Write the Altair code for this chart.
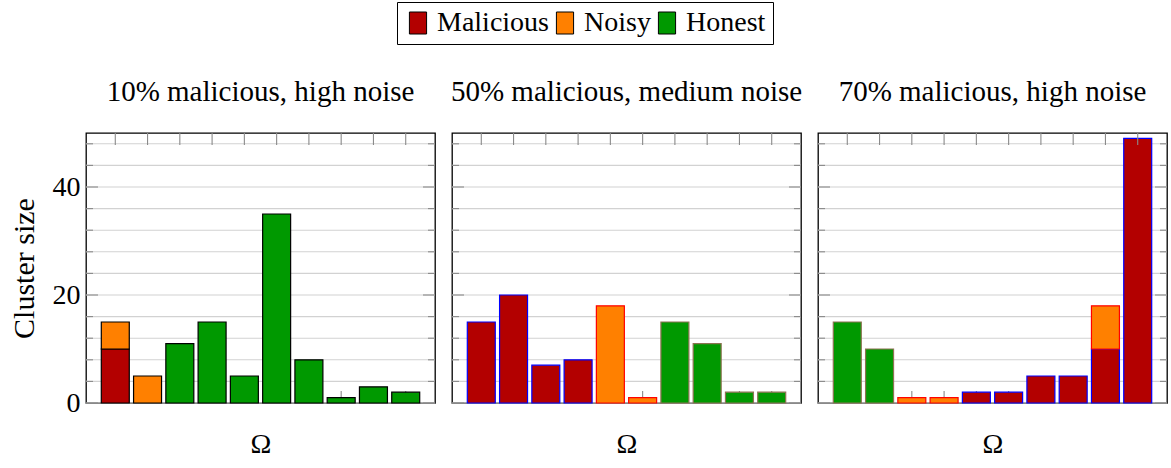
import altair as alt
import pandas as pd

# ---------------- data ----------------
panel_titles = ["10% malicious, high noise",
                "50% malicious, medium noise",
                "70% malicious, high noise"]
clusters = [str(i) for i in range(1, 11)]
types = ["Malicious", "Noisy", "Honest"]
fill_colors = ["#b30000", "#ff8000", "#009900"]

p1_malicious = [10, 0, 0, 0, 0, 0, 0, 0, 0, 0]
p1_noisy = [5, 5, 0, 0, 0, 0, 0, 0, 0, 0]
p1_honest = [0, 0, 11, 15, 5, 35, 8, 1, 3, 2]

p2_malicious = [15, 20, 7, 8, 0, 0, 0, 0, 0, 0]
p2_noisy = [0, 0, 0, 0, 18, 1, 0, 0, 0, 0]
p2_honest = [0, 0, 0, 0, 0, 0, 15, 11, 2, 2]

p3_malicious = [0, 0, 0, 0, 2, 2, 5, 5, 10, 49]
p3_noisy = [0, 0, 1, 1, 0, 0, 0, 0, 8, 0]
p3_honest = [15, 10, 0, 0, 0, 0, 0, 0, 0, 0]

edges_p1 = ["#000000", "#000000", "#000000"]
edges_p23 = ["#0000ff", "#ff0000", "#8c7352"]

grid_values = [0, 4, 8, 12, 16, 20, 24, 28, 32, 36, 40, 44, 48]
major_ticks = [0, 20, 40]
minor_ticks = [4, 8, 12, 16, 24, 28, 32, 36, 44, 48]

FONT = "Liberation Serif, Times New Roman, serif"
FS = 28
W, H = 349, 270

y_scale = alt.Scale(domain=[0, 50], nice=False, zero=True)
x_scale = alt.Scale(domain=clusters, paddingInner=0.133, paddingOuter=0.474)
color_scale = alt.Scale(domain=types, range=fill_colors)

legend = alt.Legend(
    title=None, orient="none", legendX=311, legendY=-131,
    direction="horizontal",
    symbolType="M-0.78,-1H0.78V1H-0.78Z", symbolSize=484,
    symbolStrokeColor="black", symbolStrokeWidth=1, symbolOpacity=1,
    labelFont=FONT, labelFontSize=FS, labelColor="black", labelOffset=5,
    columnPadding=2, padding=7, strokeColor="black",
)

x_axis = alt.Axis(labels=False, ticks=False, domain=False, grid=False,
                  title="Ω", titleFont=FONT, titleFontSize=FS,
                  titleFontWeight="normal", titleColor="black", titlePadding=27)


def panel(idx, mal, noi, hon, edges, show_y):
    rows = []
    for series, vals, order in ((types[0], mal, 0), (types[1], noi, 1), (types[2], hon, 2)):
        for c, v in zip(clusters, vals):
            if v > 0:
                rows.append({"cluster": c, "type": series, "value": v,
                             "ord": order, "edge": edges[order]})
    bars_df = pd.DataFrame(rows)
    grid_df = pd.DataFrame({"v": grid_values})
    maj_df = pd.DataFrame({"v": major_ticks})
    min_df = pd.DataFrame({"v": minor_ticks})
    cl_df = pd.DataFrame({"cluster": clusters})

    if show_y:
        y_axis = alt.Axis(values=major_ticks, ticks=False, domain=False, grid=False,
                          labelPadding=6, labelFont=FONT, labelFontSize=FS,
                          labelColor="black", title="Cluster size", titleFont=FONT,
                          titleFontSize=30, titleFontWeight="normal", titleColor="black",
                          titlePadding=13)
    else:
        y_axis = None

    yq = lambda f: alt.Y(f, scale=y_scale, axis=y_axis)
    xq = lambda f: alt.X(f, scale=x_scale, axis=x_axis, bandPosition=0.5, sort=clusters)

    tick_style = dict(color="#8a8a8a", strokeWidth=1.1)
    grid = alt.Chart(grid_df).mark_rule(color="#d2d2d2", strokeWidth=1.1).encode(y=yq("v:Q"))
    minor_l = alt.Chart(min_df).mark_rule(**tick_style).encode(
        y=yq("v:Q"), x=alt.value(0), x2=alt.value(7))
    minor_r = alt.Chart(min_df).mark_rule(**tick_style).encode(
        y=yq("v:Q"), x=alt.value(W), x2=alt.value(W - 7))
    major_l = alt.Chart(maj_df).mark_rule(**tick_style).encode(
        y=yq("v:Q"), x=alt.value(0), x2=alt.value(12))
    major_r = alt.Chart(maj_df).mark_rule(**tick_style).encode(
        y=yq("v:Q"), x=alt.value(W), x2=alt.value(W - 12))
    xt_top = alt.Chart(cl_df).mark_rule(**tick_style).encode(
        x=xq("cluster:N"), y=alt.value(0), y2=alt.value(12))
    xt_bot = alt.Chart(cl_df).mark_rule(**tick_style).encode(
        x=xq("cluster:N"), y=alt.value(H), y2=alt.value(H - 12))

    bars = alt.Chart(bars_df).mark_bar(strokeWidth=1.2).encode(
        x=alt.X("cluster:N", scale=x_scale, sort=clusters, axis=x_axis),
        y=alt.Y("value:Q", stack="zero", scale=y_scale, axis=y_axis),
        color=alt.Color("type:N", scale=color_scale, legend=legend),
        stroke=alt.Stroke("edge:N", scale=None),
        order=alt.Order("ord:Q"),
    )

    return alt.layer(grid, xt_bot, bars, xt_top, minor_l, minor_r, major_l, major_r).properties(
        width=W, height=H,
        title=alt.TitleParams(panel_titles[idx], font=FONT, fontSize=29,
                              fontWeight="normal", color="black", offset=25,
                              anchor="middle"),
    )


chart = alt.hconcat(
    panel(0, p1_malicious, p1_noisy, p1_honest, edges_p1, True),
    panel(1, p2_malicious, p2_noisy, p2_honest, edges_p23, False),
    panel(2, p3_malicious, p3_noisy, p3_honest, edges_p23, False),
    spacing=13,
).properties(
    padding={"left": 8, "top": 1, "right": 0, "bottom": 0},
    background="white",
).configure_view(stroke="black", strokeWidth=1.3)

chart.save("out.html", embed_options={"renderer": "svg", "actions": False})
